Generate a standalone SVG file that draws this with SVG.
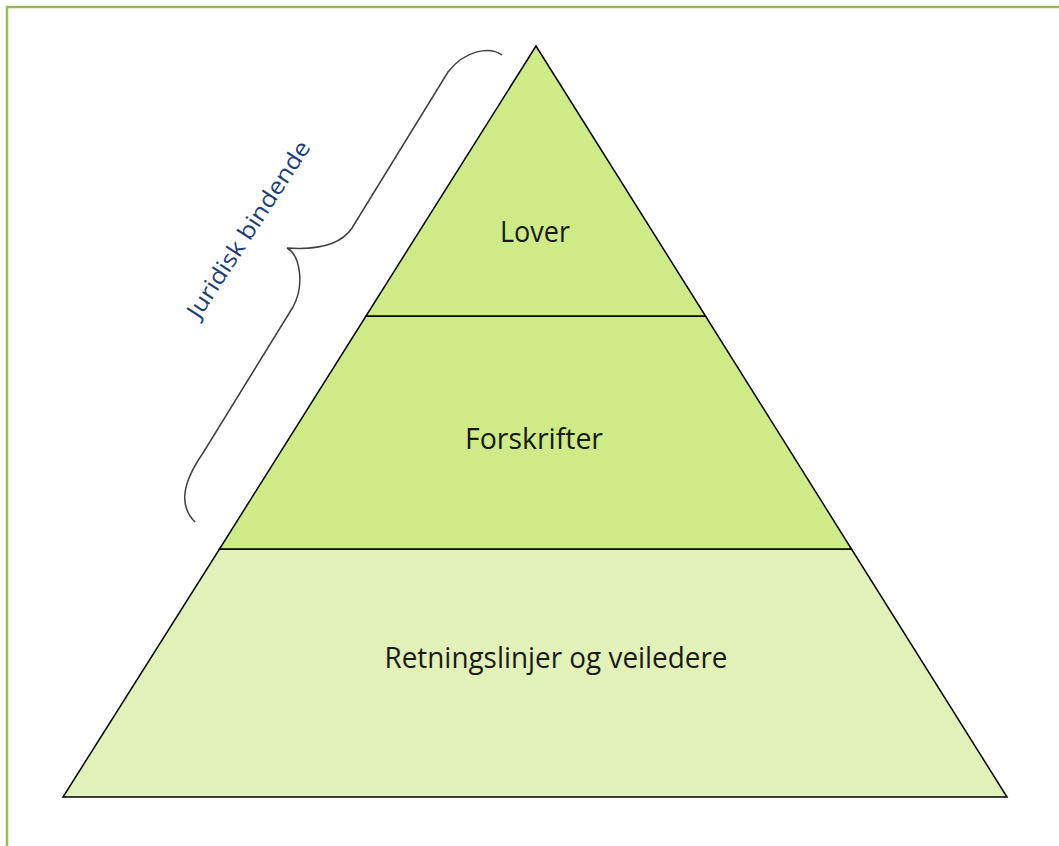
<svg xmlns="http://www.w3.org/2000/svg" width="1059" height="846" viewBox="0 0 1059 846">
<style>
.lbl{font-family:"Open Sans","Liberation Sans",sans-serif;font-size:28.5px;fill:#1a1a1a;text-anchor:middle}
.tier{stroke:#000;stroke-width:1.5;stroke-linejoin:miter}
</style>
<rect width="1059" height="846" fill="#fff"/>
<g id="frame" fill="none" stroke="#9bbb59" stroke-width="2.5">
<path d="M7,846 V7 H1059"/>
</g>
<g id="bottom">
<polygon class="tier" points="219.5,549 851.5,549 1007,797 63,797" fill="#e2f1b8"/>
<text class="lbl" x="556" y="668" textLength="343" lengthAdjust="spacingAndGlyphs">Retningslinjer og veiledere</text>
</g>
<g id="middle">
<polygon class="tier" points="366,316 705.5,316 851.5,549 219.5,549" fill="#ceeb87"/>
<text class="lbl" x="534" y="449" textLength="138" lengthAdjust="spacingAndGlyphs">Forskrifter</text>
</g>
<g id="top">
<polygon class="tier" points="536,46 705.5,316 366,316" fill="#ceeb87"/>
<text class="lbl" x="535" y="242" textLength="70" lengthAdjust="spacingAndGlyphs">Lover</text>
</g>
<g id="brace">
<path d="M502,55 C490,46 465,50 448,72 L352,228 C340,246 315,250 287,248 C300,255 305,285 293,307 L203,453 C183,482 178,505 195,522" fill="none" stroke="#404040" stroke-width="1.5"/>
<text x="0" y="0" transform="translate(199,320) rotate(-57)" font-family="Open Sans, Liberation Sans, sans-serif" font-size="23" fill="#1f3f75" textLength="206" lengthAdjust="spacingAndGlyphs">Juridisk bindende</text>
</g>
</svg>
